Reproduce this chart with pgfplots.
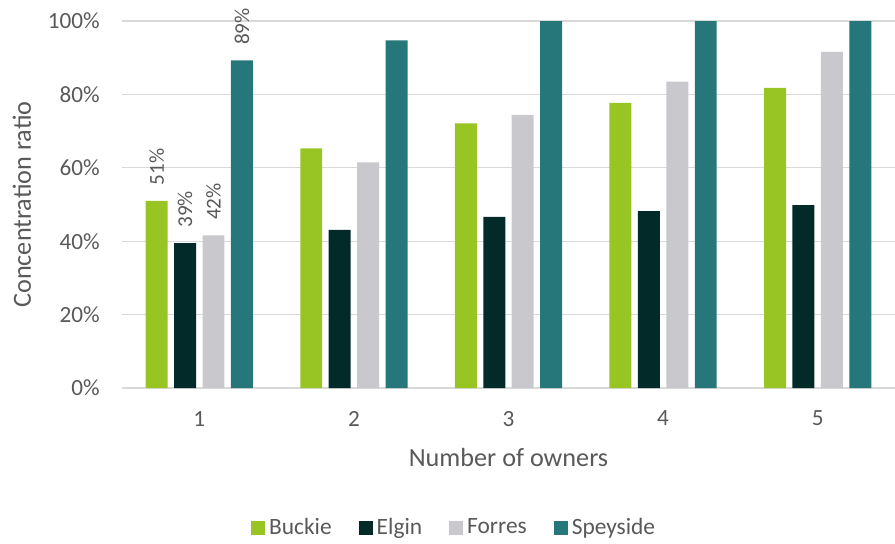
\documentclass[border=0pt]{standalone}
\usepackage{fontspec}
\setmainfont{Carlito}
\usepackage{pgfplots}
\pgfplotsset{compat=1.18}
\definecolor{buckie}{HTML}{98C424}
\definecolor{elgin}{HTML}{022A28}
\definecolor{forres}{HTML}{C8C8CD}
\definecolor{speyside}{HTML}{26777A}
\definecolor{textgray}{HTML}{595959}
\definecolor{gridgray}{HTML}{D9D9D9}
\begin{document}
\begin{tikzpicture}
\path[use as bounding box] (-61pt,-77.5pt) rectangle (386.5pt,194pt);
\begin{axis}[
  at={(0pt,0pt)}, anchor=south west,
  width=386.5pt, height=183.5pt, scale only axis,
  ybar=0pt, bar width=0.142,
  xmin=0.5, xmax=5.5, ymin=0, ymax=100,
  xtick={1,2,3,4,5}, ytick={0,20,40,60,80,100},
  yticklabel={\pgfmathprintnumber{\tick}\%},
  /pgf/number format/assume math mode=true,
  axis line style={draw=none},
  major tick length=0pt,
  ymajorgrids, grid style={gridgray, line width=0.65pt},
  tick label style={font=\fontsize{11.6}{14}\selectfont, text=textgray},
  xticklabel style={yshift=-8pt},
  yticklabel style={xshift=-7.6pt},
  label style={font=\fontsize{13.1}{15}\selectfont, text=textgray},
  xlabel={Number of owners},
  ylabel={Concentration ratio},
  xlabel style={at={(axis description cs:0.5,-0.1907)}, anchor=center},
  ylabel style={at={(axis description cs:-0.1294,0.5)}, anchor=center},
  legend columns=4,
  legend style={at={(axis description cs:0.431,-0.381)}, anchor=center, draw=none,
    font=\fontsize{11.7}{14}\selectfont, text=textgray,
    /tikz/every even column/.append style={column sep=11.5pt}},
  nodes near coords,
  point meta=explicit symbolic,
  nodes near coords style={anchor=west, rotate=90, inner xsep=7.5pt,
    font=\fontsize{10.6}{12}\selectfont, text=textgray},
]
\addplot[bar shift=-0.276, fill=buckie, draw=none,
  legend image code/.code={\fill[buckie] (0pt,-3.5pt) rectangle (7pt,3.5pt);}]
  coordinates {(1,51.0)[51\%] (2,65.3)[] (3,72.1)[] (4,77.7)[] (5,81.8)[]};
\addlegendentry{Buckie}
\addplot[bar shift=-0.092, fill=elgin, draw=none,
  legend image code/.code={\fill[elgin] (0pt,-3.5pt) rectangle (7pt,3.5pt);}]
  coordinates {(1,39.5)[39\%] (2,43.1)[] (3,46.6)[] (4,48.2)[] (5,49.8)[]};
\addlegendentry{Elgin}
\addplot[bar shift=0.092, fill=forres, draw=none,
  legend image code/.code={\fill[forres] (0pt,-3.5pt) rectangle (7pt,3.5pt);}]
  coordinates {(1,41.6)[42\%] (2,61.5)[] (3,74.4)[] (4,83.5)[] (5,91.6)[]};
\addlegendentry{Forres}
\addplot[bar shift=0.276, fill=speyside, draw=none,
  legend image code/.code={\fill[speyside] (0pt,-3.5pt) rectangle (7pt,3.5pt);}]
  coordinates {(1,89.3)[89\%] (2,94.7)[] (3,100)[] (4,100)[] (5,100)[]};
\addlegendentry{Speyside}
\end{axis}
\end{tikzpicture}
\end{document}
